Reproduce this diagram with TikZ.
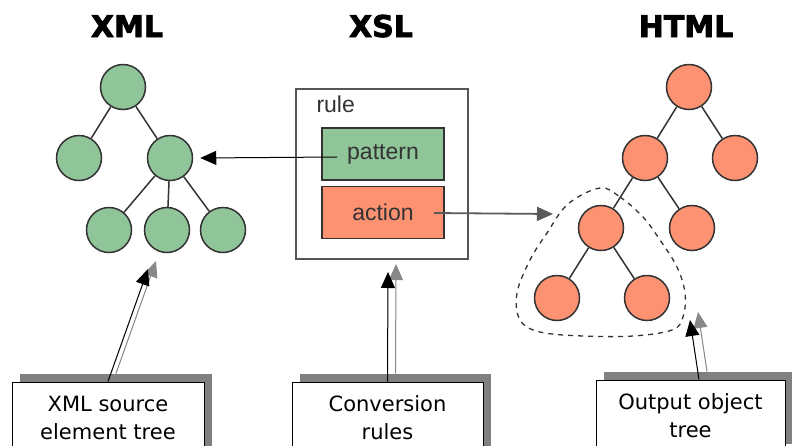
\documentclass[tikz,border=0pt]{standalone}
\usepackage{fontspec}
\setmainfont{DejaVu Sans}
\newfontfamily\titlefont[FakeBold=2.5]{DejaVu Sans Bold}
\newfontfamily\rulefont{Liberation Sans}
\usetikzlibrary{arrows.meta,shadows}

\definecolor{leafgreen}{RGB}{143,197,153}
\definecolor{salmon}{RGB}{252,146,114}
\definecolor{inkgray}{RGB}{51,51,51}
\definecolor{framegray}{RGB}{85,85,85}
\definecolor{shadowgray}{RGB}{128,128,128}
\definecolor{pointergray}{RGB}{136,136,136}
\definecolor{flowgray}{RGB}{90,90,90}

\tikzset{
  title/.style={font=\titlefont\fontsize{30}{30}\selectfont, anchor=base},
  xmlnode/.style={circle, draw=inkgray, line width=1.5pt, fill=leafgreen, minimum size=45pt, inner sep=0pt},
  htmlnode/.style={circle, draw=inkgray, line width=1.5pt, fill=salmon, minimum size=45pt, inner sep=0pt},
  branch/.style={draw=inkgray, line width=1.5pt},
  part/.style={draw=inkgray, line width=1.2pt, minimum width=122pt, minimum height=52pt,
    inner sep=0pt, font=\rulefont\fontsize{23}{23}\selectfont, text=inkgray},
  tip/.style={-{Triangle[length=16pt,width=14pt]}},
  callout/.style={draw=black, line width=1pt, fill=white, align=center, inner sep=0pt,
    minimum height=72pt, font=\fontsize{21}{28}\selectfont,
    general shadow={fill=shadowgray, shadow xshift=8pt, shadow yshift=8pt}},
  pointer/.style={tip, line width=1pt, draw=black, fill=black},
  pointershade/.style={tip, line width=1pt, draw=pointergray, fill=pointergray},
}

\begin{document}
\begin{tikzpicture}[x=1pt, y=-1pt]
  \useasboundingbox (0,0) rectangle (792,445);
  \clip (0,0) rectangle (792,445);

  % column headings
  \node[title] (txml)  at (127,37) {XML};
  \node[title] (txsl)  at (381,37) {XSL};
  \node[title] (thtml) at (686,37) {HTML};

  % XML source tree
  \node[xmlnode] (x0)  at (123,87)  {};
  \node[xmlnode] (x1)  at (79,158)  {};
  \node[xmlnode] (x2)  at (170,158) {};
  \node[xmlnode] (x3)  at (109,230) {};
  \node[xmlnode] (x4)  at (167,230) {};
  \node[xmlnode] (x5)  at (223,230) {};
  \draw[branch] (x0) -- (x1);
  \draw[branch] (x0) -- (x2);
  \draw[branch] (x2) -- (x3);
  \draw[branch] (x2) -- (x4);
  \draw[branch] (x2) -- (x5);

  % HTML result tree
  \node[htmlnode] (h0) at (689,87)  {};
  \node[htmlnode] (h1) at (645,158) {};
  \node[htmlnode] (h2) at (735,158) {};
  \node[htmlnode] (h3) at (601,228) {};
  \node[htmlnode] (h4) at (692,228) {};
  \node[htmlnode] (h5) at (557,298) {};
  \node[htmlnode] (h6) at (647,298) {};
  \draw[branch] (h0) -- (h1);
  \draw[branch] (h0) -- (h2);
  \draw[branch] (h1) -- (h3);
  \draw[branch] (h1) -- (h4);
  \draw[branch] (h3) -- (h5);
  \draw[branch] (h3) -- (h6);

  % generated subtree outline
  \draw[inkgray, line width=1.3pt, dash pattern=on 5pt off 5pt]
    plot[smooth cycle, tension=0.6] coordinates {
      (600,188) (620,197) (643,217) (660,240) (677,267) (685,293) (683,317)
      (672,330) (633,336) (583,336) (540,332) (520,320) (517,293) (530,260)
      (547,233) (568,204)};

  % XSL rule with its pattern and action
  \node[draw=framegray, line width=1.5pt, minimum width=172pt, minimum height=170pt, inner sep=0pt]
    (rule) at (382,174) {};
  \node[anchor=base west, font=\rulefont\fontsize{23}{23}\selectfont, text=inkgray]
    (rulelbl) at (313,112) {rule};
  \node[part, fill=leafgreen] (pat) at (383,154) {pattern};
  \node[part, fill=salmon]    (act) at (383,212.5) {action};

  \coordinate (patsrc) at (337,157);
  \coordinate (actsrc) at (434,213);
  \coordinate (actdst) at (553,214);
  \draw[tip, line width=1pt, black] (patsrc) -- ([xshift=7pt]x2.east);
  \draw[tip, line width=1.8pt, draw=flowgray, fill=black] (actsrc) -- (actdst);

  % explanatory callouts
  \node[callout, minimum width=192pt] (c1) at (108,418) {XML source\\element tree};
  \node[callout, minimum width=191pt] (c2) at (387.5,418) {Conversion\\rules};
  \node[callout, minimum width=189pt] (c3) at (690.5,416) {Output object\\tree};

  \coordinate (t1) at (148,269);
  \coordinate (t2) at (388,272);
  \coordinate (t3) at (690,320);

  \draw[pointershade] ([shift={(8,-8)}]c1.north) -- ([shift={(8,-8)}]t1);
  \draw[pointershade] ([shift={(8,-8)}]c2.north) -- ([shift={(8,-8)}]t2);
  \draw[pointershade] ([shift={(16.5,-8)}]c3.north) -- ([shift={(8,-8)}]t3);
  \draw[pointer] (c1.north) -- (t1);
  \draw[pointer] (c2.north) -- (t2);
  \draw[pointer] ([xshift=8.5pt]c3.north) -- (t3);
\end{tikzpicture}
\end{document}
